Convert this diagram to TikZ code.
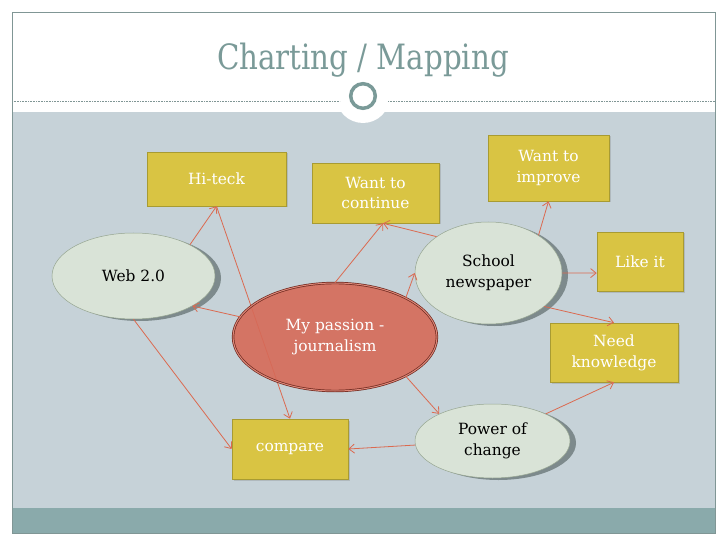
\documentclass[tikz,border=0pt]{standalone}
\usepackage{fontspec}
\setmainfont{DejaVu Serif}
\newfontfamily\titlefont[FakeStretch=0.84]{DejaVu Serif}
\usetikzlibrary{shapes.geometric}
\usetikzlibrary{shadows}
\usetikzlibrary{arrows.meta}

\definecolor{slidegray}{RGB}{198,210,216}
\definecolor{bandteal}{RGB}{138,170,171}
\definecolor{frameline}{RGB}{128,150,149}
\definecolor{titleteal}{RGB}{122,154,152}
\definecolor{boxgold}{RGB}{217,196,67}
\definecolor{boxedge}{RGB}{168,155,50}
\definecolor{ovalfill}{RGB}{217,227,215}
\definecolor{ovaledge}{RGB}{150,165,145}
\definecolor{ovalshade}{RGB}{125,138,140}
\definecolor{passionred}{RGB}{214,106,88}
\definecolor{passionedge}{RGB}{110,40,30}
\definecolor{linkred}{RGB}{219,106,80}

\begin{document}
\begin{tikzpicture}[x=1bp,y=-1bp,>={Straight Barb[length=5.5bp,width=9bp]},
    idea/.style={rectangle, draw=boxedge, line width=0.6bp, fill=boxgold, text=white, align=center, inner sep=0pt,
        font=\fontsize{15.5}{21}\selectfont, drop shadow={shadow xshift=1.5bp, shadow yshift=-1.5bp, opacity=0.3}},
    topic/.style={ellipse, draw=ovaledge, line width=0.5bp, fill=ovalfill, text=black, align=center, inner sep=0pt,
        font=\fontsize{15.5}{21}\selectfont, drop shadow={shadow xshift=6bp, shadow yshift=-2bp, fill=ovalshade, opacity=1}},
    core/.style={ellipse, draw=passionedge, line width=0.7bp, double=passionred!80!white, double distance=1bp,
        fill=passionred, fill opacity=0.9, text opacity=1, text=white, align=center, inner sep=0pt,
        font=\fontsize{15.5}{21}\selectfont},
    wire/.style={->, draw=linkred, line width=0.8bp}]
    \useasboundingbox (0,0) rectangle (728,546);
    % slide backdrop
    \fill[slidegray] (12,112) rectangle (715,508);
    \fill[bandteal] (12,508) rectangle (715,533);
    \draw[frameline, line width=0.8bp] (12,12) rectangle (715,533);
    \fill[white] (363,96) circle[radius=27];
    \draw[frameline, line width=0.6bp, dash pattern=on 0.8bp off 0.8bp] (12,101) -- (340,101) (388,101) -- (715,101);
    \draw[titleteal, line width=3.5bp] (363,96) circle[radius=12.3];
    \node[anchor=base, text=titleteal, font=\titlefont\fontsize{35}{40}\selectfont] (title) at (363,70) {Charting / Mapping};

    \node[idea, minimum width=139bp, minimum height=54bp] (hiteck) at (216.5,179) {Hi-teck};
    \node[idea, minimum width=127bp, minimum height=60bp] (cont) at (375.5,193) {Want to\\continue};
    \node[idea, minimum width=121bp, minimum height=66bp] (improve) at (548.5,168) {Want to\\improve};
    \node[idea, minimum width=86bp, minimum height=59bp] (likeit) at (640,261.5) {Like it};
    \node[idea, minimum width=128bp, minimum height=59bp] (need) at (614,352.5) {Need\\knowledge};
    \node[idea, minimum width=116bp, minimum height=60bp] (compare) at (290,449) {compare};
    \node[topic, minimum width=163bp, minimum height=86bp] (web) at (133.5,276) {Web 2.0};
    \node[topic, minimum width=147bp, minimum height=102bp] (school) at (488.5,273) {School\\newspaper};
    \node[topic, minimum width=155bp, minimum height=74bp] (power) at (492.5,441) {Power of\\change};
    \draw[wire] (hiteck.south) -- (compare.north);
    \node[core, minimum width=204bp, minimum height=108bp] (passion) at (335,337) {My passion -\\journalism};

    \draw[wire] (web.29) -- (hiteck.south);
    \draw[wire] (passion.168) -- (web.-27);
    \draw[wire] (web.south) -- (compare.west);
    \draw[wire] (passion.north) -- (cont.-76);
    \draw[wire] (school.145) -- (cont.-76);
    \draw[wire] (passion.29) -- (school.west);
    \draw[wire] (school.37) -- (improve.south);
    \draw[wire] (school.east) -- (likeit.195);
    \draw[wire] (school.-31) -- (need.north);
    \draw[wire] (passion.-29) -- (power.153);
    \draw[wire] (power.27) -- (need.south);
    \draw[wire] (power.183) -- (compare.east);
\end{tikzpicture}
\end{document}
